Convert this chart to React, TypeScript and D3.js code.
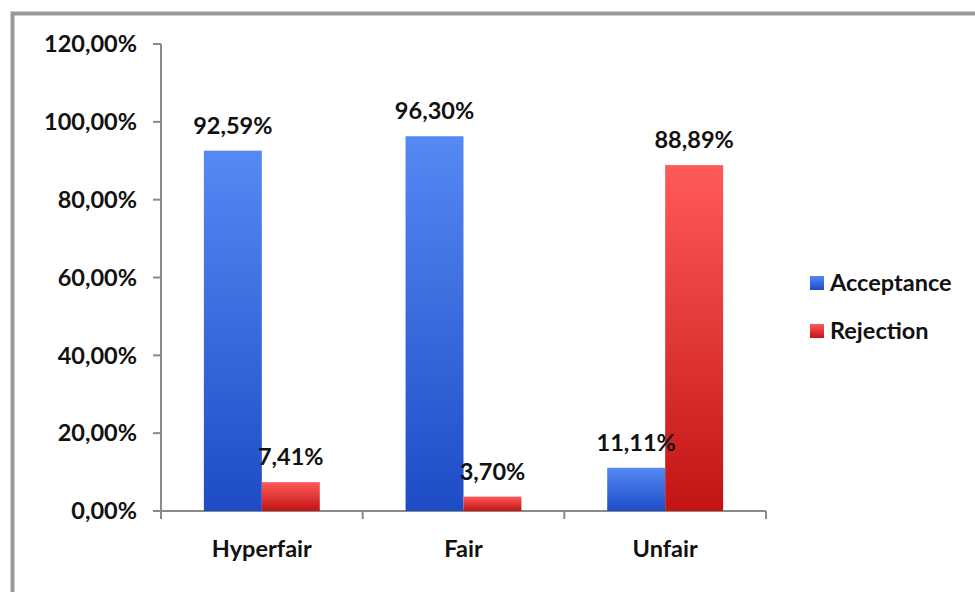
import * as d3 from 'd3';
import { useEffect, useRef } from "react";

const categories = ['Hyperfair', 'Fair', 'Unfair'];
const seriesNames = ['Acceptance', 'Rejection'];
const acceptance = [0.9259, 0.9630, 0.1111];
const rejection = [0.0741, 0.0370, 0.8889];
const yTicks = [0, 0.2, 0.4, 0.6, 0.8, 1.0, 1.2];

const WIDTH = 975;
const HEIGHT = 592;
const FONT = 'Lato, "Open Sans", sans-serif';
const FONT_SIZE = '23.5px';

const colors: Record<string, [string, string]> = {
    Acceptance: ['#5589f3', '#1d4cc6'],
    Rejection: ['#ff5a5a', '#c21414'],
};

const fmt = (v: number) => (v * 100).toFixed(2).replace('.', ',') + '%';

export default function App() {
    const ref = useRef<SVGSVGElement>(null);

    useEffect(() => {
        if (!ref.current) return;
        const svg = d3.select(ref.current);
        svg.selectAll("*").remove();

        const defs = svg.append('defs');
        seriesNames.forEach(s => {
            const g = defs.append('linearGradient')
                .attr('id', 'grad-' + s)
                .attr('x1', 0).attr('y1', 0).attr('x2', 0).attr('y2', 1);
            g.append('stop').attr('offset', '0%').attr('stop-color', colors[s][0]);
            g.append('stop').attr('offset', '100%').attr('stop-color', colors[s][1]);
        });

        // frame of the picture
        svg.append('path')
            .attr('d', `M12.5,${HEIGHT} V13.5 H${WIDTH}`)
            .attr('fill', 'none')
            .attr('stroke', '#999')
            .attr('stroke-width', 4);

        const y = d3.scaleLinear().domain([0, 1.2]).range([511, 44]);
        const x0 = d3.scaleBand<string>().domain(categories).range([161, 766]);
        const x1 = d3.scaleBand<string>().domain(seriesNames)
            .range([0, x0.bandwidth()])
            .paddingInner(0)
            .paddingOuter(0.74);

        const rows = categories.map((c, i) => ({
            category: c,
            values: [
                { series: 'Acceptance', value: acceptance[i] },
                { series: 'Rejection', value: rejection[i] },
            ],
        }));

        // axes
        const axisColor = '#8a8a8a';
        svg.append('line')
            .attr('x1', 161).attr('x2', 161)
            .attr('y1', y(1.2)).attr('y2', y(0))
            .attr('stroke', axisColor).attr('stroke-width', 2);
        svg.append('line')
            .attr('x1', 161).attr('x2', 766)
            .attr('y1', y(0)).attr('y2', y(0))
            .attr('stroke', axisColor).attr('stroke-width', 2);

        svg.selectAll('.ytick')
            .data(yTicks)
            .enter()
            .append('line')
            .attr('x1', 153).attr('x2', 161)
            .attr('y1', d => y(d)).attr('y2', d => y(d))
            .attr('stroke', axisColor).attr('stroke-width', 2);

        svg.selectAll('.ylabel')
            .data(yTicks)
            .enter()
            .append('text')
            .attr('x', 137)
            .attr('y', d => y(d))
            .attr('dy', '0.35em')
            .attr('text-anchor', 'end')
            .style('font-family', FONT)
            .style('font-weight', 700)
            .style('font-size', FONT_SIZE)
            .attr('fill', '#111')
            .text(d => fmt(d));

        const bounds = categories.map(c => x0(c)!).concat([766]);
        svg.selectAll('.xtick')
            .data(bounds)
            .enter()
            .append('line')
            .attr('x1', d => d).attr('x2', d => d)
            .attr('y1', y(0)).attr('y2', y(0) + 8)
            .attr('stroke', axisColor).attr('stroke-width', 2);

        svg.selectAll('.xlabel')
            .data(categories)
            .enter()
            .append('text')
            .attr('x', d => x0(d)! + x0.bandwidth() / 2)
            .attr('y', 557)
            .attr('text-anchor', 'middle')
            .style('font-family', FONT)
            .style('font-weight', 700)
            .style('font-size', FONT_SIZE)
            .attr('fill', '#111')
            .text(d => d);

        const groups = svg.selectAll('.group')
            .data(rows)
            .enter()
            .append('g')
            .attr('transform', d => `translate(${x0(d.category)}, 0)`);

        groups.selectAll('rect')
            .data(d => d.values)
            .enter()
            .append('rect')
            .attr('x', d => x1(d.series)!)
            .attr('width', x1.bandwidth())
            .attr('y', d => y(d.value))
            .attr('height', d => y(0) - y(d.value))
            .attr('fill', d => `url(#grad-${d.series})`);

        groups.selectAll('.val')
            .data(d => d.values)
            .enter()
            .append('text')
            .attr('x', d => x1(d.series)! + x1.bandwidth() / 2)
            .attr('y', d => y(d.value) - 17)
            .attr('text-anchor', 'middle')
            .style('font-family', FONT)
            .style('font-weight', 700)
            .style('font-size', FONT_SIZE)
            .attr('fill', '#111')
            .text(d => fmt(d.value));

        // legend
        const legend = svg.selectAll('.legend')
            .data(seriesNames)
            .enter()
            .append('g')
            .attr('transform', (_, i) => `translate(810, ${283 + i * 48})`);
        legend.append('rect')
            .attr('x', 0).attr('y', -7)
            .attr('width', 14).attr('height', 14)
            .attr('fill', d => `url(#grad-${d})`);
        legend.append('text')
            .attr('x', 20)
            .attr('y', 0)
            .attr('dy', '0.35em')
            .style('font-family', FONT)
            .style('font-weight', 700)
            .style('font-size', FONT_SIZE)
            .attr('fill', '#111')
            .text(d => d);
    }, []);

    return (
        <svg ref={ref} width={WIDTH} height={HEIGHT}
            style={{ position: 'absolute', left: 0, top: 0, background: '#fff' }}></svg>
    );
}
